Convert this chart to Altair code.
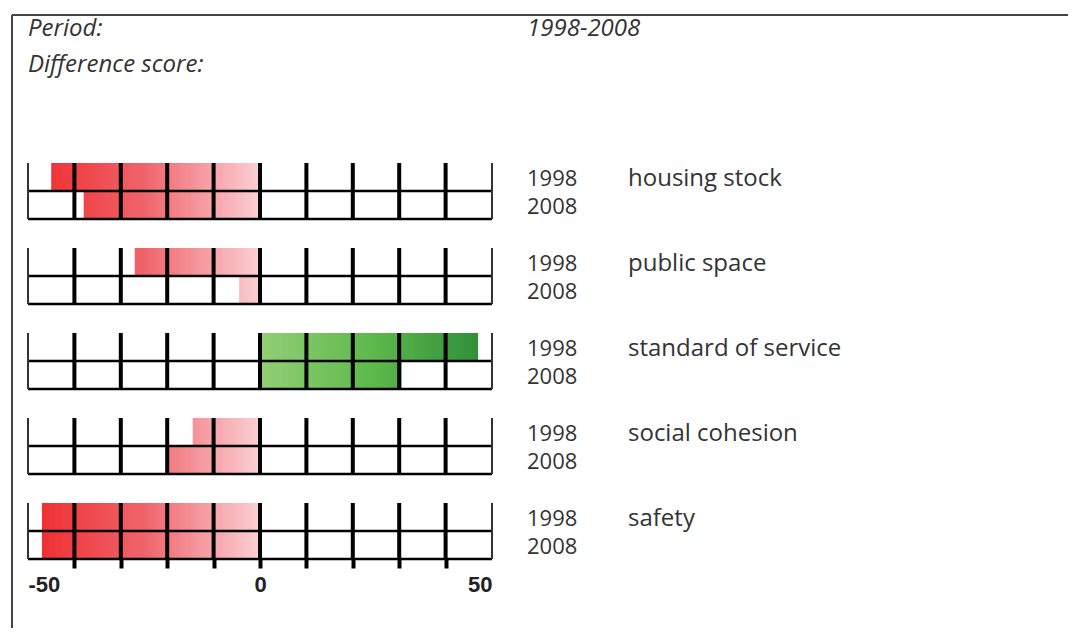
import altair as alt
import pandas as pd
import numpy as np

# ---------------- data ----------------
CATEGORIES = ["housing stock", "public space", "standard of service", "social cohesion", "safety"]
YEARS = ["1998", "2008"]
SCORES_1998 = [-45, -27, 47, -14.5, -47]
SCORES_2008 = [-38, -4.5, 30.5, -20, -47]
GRID_TICKS = [-40, -30, -20, -10, 0, 10, 20, 30, 40]
EDGE_TICKS = [-50, 50]
HEADER_LABELS = ["Period:", "Difference score:"]
PERIOD = "1998-2008"

COLOR_STOPS = [-50, -25, -0.01, 0.01, 25, 50]
COLOR_RANGE = ["#ee2a2c", "#f0646b", "#fbd0d4", "#93cf76", "#5cb84b", "#2b8a37"]

TEXT_COLOR = "#333333"
FONT = "Open Sans"

W, H = 464, 56


def cells(cat, year, v, step=0.5):
    """split one bar (0 -> v) into small cells so it can carry a colour gradient"""
    rows = []
    sign = 1 if v > 0 else -1
    end = abs(v)
    a = 0.0
    while a < end - 1e-9:
        b = min(np.floor(a / step) * step + step, end)
        # overlap into the next cell a little to avoid anti-aliasing seams
        b_draw = min(b + 0.25, end)
        lo, hi = sign * a, sign * b_draw
        rows.append(dict(category=cat, year=year, x0=min(lo, hi), x1=max(lo, hi), mid=sign * (a + b) / 2))
        a = b
    return rows


x_scale = alt.Scale(domain=[-50, 50], nice=False, zero=False)
y_scale = alt.Scale(domain=YEARS, paddingInner=0, paddingOuter=0)
c_scale = alt.Scale(domain=COLOR_STOPS, range=COLOR_RANGE, interpolate="rgb")


def panel(i, last):
    cat = CATEGORIES[i]
    df = pd.DataFrame(cells(cat, YEARS[0], SCORES_1998[i]) + cells(cat, YEARS[1], SCORES_2008[i]))
    if last:
        axis = alt.Axis(
            values=EDGE_TICKS[:1] + GRID_TICKS + EDGE_TICKS[1:],
            labelExpr="abs(datum.value) == 50 || datum.value == 0 ? '' + datum.value : ''",
            labelFlush=True,
            labelOverlap=False,
            domain=False,
            grid=False,
            ticks=True,
            tickSize=9,
            tickWidth=4,
            tickColor="black",
            tickOpacity={"condition": {"test": "abs(datum.value) == 50", "value": 0}, "value": 1},
            labelFont="Liberation Sans",
            labelFontWeight="bold",
            labelFontSize=22,
            labelColor="#222222",
            labelPadding=6,
            title=None,
        )
    else:
        axis = None

    bars = alt.Chart(df).mark_rect().encode(
        x=alt.X("x0:Q", scale=x_scale, axis=axis, title=None),
        x2="x1:Q",
        y=alt.Y("year:N", scale=y_scale, axis=None),
        fill=alt.Fill("mid:Q", scale=c_scale, legend=None),
    )
    hline_data = pd.DataFrame({"year": [YEARS[1]]})
    mid_line = alt.Chart(hline_data).mark_rule(strokeWidth=2.5, color="black").encode(
        y=alt.Y("year:N", scale=y_scale, axis=None, bandPosition=0)
    )
    bottom_line = alt.Chart(hline_data).mark_rule(strokeWidth=2.5, color="black").encode(
        y=alt.Y("year:N", scale=y_scale, axis=None, bandPosition=1)
    )
    inner = alt.Chart(pd.DataFrame({"v": GRID_TICKS})).mark_rule(strokeWidth=4, color="black").encode(
        x=alt.X("v:Q", scale=x_scale, axis=axis, title=None)
    )
    edges = alt.Chart(pd.DataFrame({"v": EDGE_TICKS})).mark_rule(strokeWidth=2, color="#333333").encode(
        x=alt.X("v:Q", scale=x_scale, axis=axis, title=None)
    )
    years = alt.Chart(pd.DataFrame({"year": YEARS})).mark_text(
        align="left", baseline="alphabetic", dy=9, font=FONT, fontSize=22, color=TEXT_COLOR
    ).encode(
        x=alt.value(W + 35),
        y=alt.Y("year:N", scale=y_scale, axis=None),
        text="year:N",
    )
    name = alt.Chart(pd.DataFrame({"year": [YEARS[0]], "name": [cat]})).mark_text(
        align="left", baseline="alphabetic", dy=9, font=FONT, fontSize=24, color=TEXT_COLOR
    ).encode(
        x=alt.value(W + 136),
        y=alt.Y("year:N", scale=y_scale, axis=None),
        text="name:N",
    )
    return alt.layer(bars, mid_line, bottom_line, inner, edges, years, name).properties(width=W, height=H)


# ---------------- header with frame ----------------
one = pd.DataFrame({"a": [0]})
frame_top = alt.Chart(one).mark_rule(strokeWidth=2, color="#444444").encode(
    x=alt.value(-16), x2=alt.value(1040), y=alt.value(0)
)
frame_left = alt.Chart(one).mark_rule(strokeWidth=2, color="#444444").encode(
    x=alt.value(-16), y=alt.value(0), y2=alt.value(613)
)
hdr_style = dict(align="left", baseline="alphabetic", font=FONT, fontSize=24, fontStyle="italic", color=TEXT_COLOR)
period_lbl = alt.Chart(pd.DataFrame({"t": [HEADER_LABELS[0]]})).mark_text(**hdr_style).encode(
    x=alt.value(0), y=alt.value(21), text="t:N"
)
diff_lbl = alt.Chart(pd.DataFrame({"t": [HEADER_LABELS[1]]})).mark_text(**hdr_style).encode(
    x=alt.value(0), y=alt.value(57), text="t:N"
)
period_val = alt.Chart(pd.DataFrame({"t": [PERIOD]})).mark_text(**hdr_style).encode(
    x=alt.value(W + 35), y=alt.value(21), text="t:N"
)
header = alt.layer(frame_top, frame_left, period_lbl, diff_lbl, period_val).properties(width=W, height=119)

panels = [panel(i, i == len(CATEGORIES) - 1) for i in range(len(CATEGORIES))]

chart = (
    alt.vconcat(header, *panels, spacing=29, bounds="flush")
    .properties(padding={"left": 3, "top": 6, "right": 0, "bottom": 0}, background="white")
    .configure_view(strokeWidth=0)
)

chart.save("out.html", embed_options={"renderer": "svg", "actions": False})
